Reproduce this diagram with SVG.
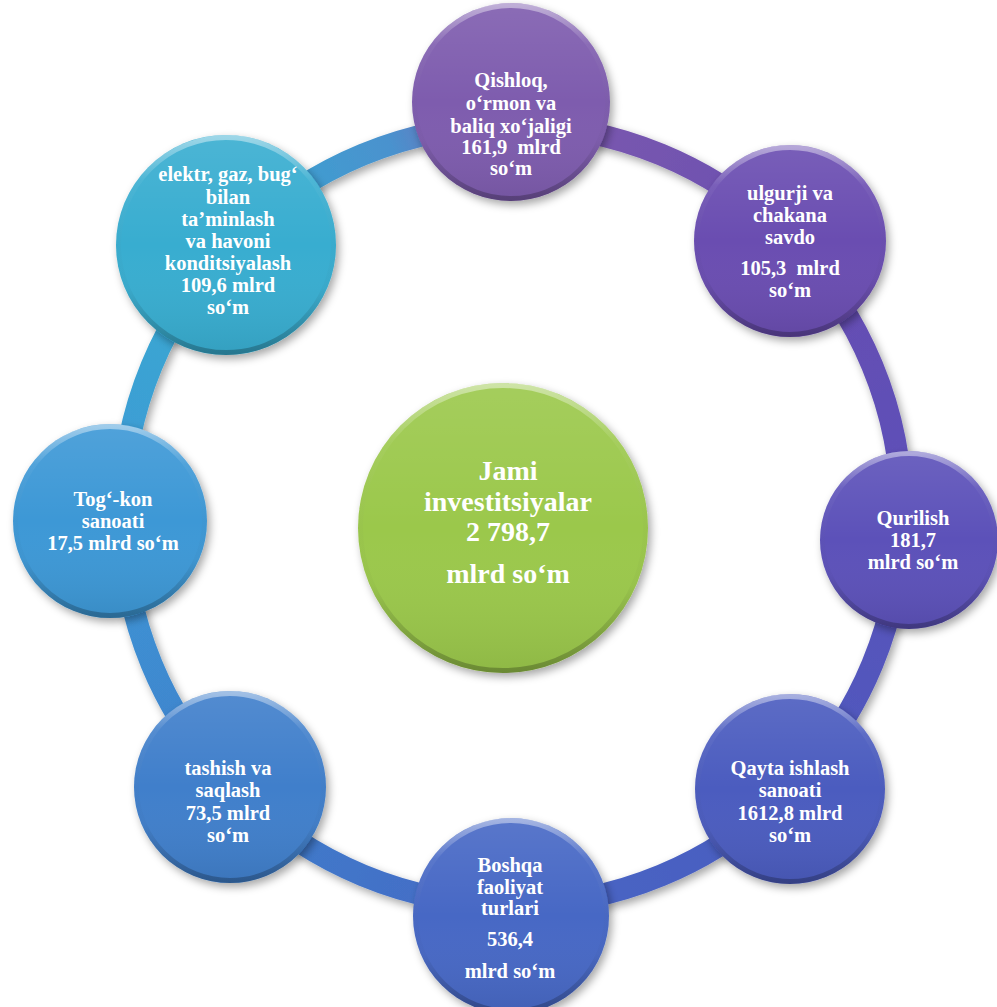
<svg xmlns="http://www.w3.org/2000/svg" width="997" height="1007" viewBox="0 0 997 1007">
<style>
  .lbl { font-family: "Liberation Serif", "Times New Roman", serif; font-weight: bold; font-size: 20.5px; fill: #ffffff; text-anchor: middle; }
  .big { font-size: 28px; }
  .rim { fill: none; stroke: url(#rim); stroke-width: 5; }
  .seg { fill: none; stroke-width: 22; }
</style>
<defs>
  <filter id="sh" x="-20%" y="-20%" width="140%" height="140%">
    <feDropShadow dx="3" dy="4" stdDeviation="4" flood-color="#000" flood-opacity="0.35"/>
  </filter>
  <linearGradient id="rim" x1="0" y1="0" x2="0" y2="1">
    <stop offset="0" stop-color="#fff" stop-opacity="0.45"/>
    <stop offset="0.2" stop-color="#fff" stop-opacity="0.05"/>
    <stop offset="0.7" stop-color="#000" stop-opacity="0.02"/>
    <stop offset="1" stop-color="#000" stop-opacity="0.25"/>
  </linearGradient>
  <linearGradient id="shade" x1="0" y1="0" x2="0" y2="1">
    <stop offset="0" stop-color="#fff" stop-opacity="0.10"/>
    <stop offset="0.5" stop-color="#fff" stop-opacity="0"/>
    <stop offset="1" stop-color="#000" stop-opacity="0.08"/>
  </linearGradient>
  <linearGradient id="g0" gradientUnits="userSpaceOnUse" x1="512" y1="125" x2="787.8" y2="239.2"><stop offset="0" stop-color="#7E5CAE"/><stop offset="1" stop-color="#6A4DB1"/></linearGradient>
  <linearGradient id="g1" gradientUnits="userSpaceOnUse" x1="787.8" y1="239.2" x2="902" y2="515"><stop offset="0" stop-color="#6A4DB1"/><stop offset="1" stop-color="#5B51B9"/></linearGradient>
  <linearGradient id="g2" gradientUnits="userSpaceOnUse" x1="902" y1="515" x2="787.8" y2="790.8"><stop offset="0" stop-color="#5B51B9"/><stop offset="1" stop-color="#4C5BBF"/></linearGradient>
  <linearGradient id="g3" gradientUnits="userSpaceOnUse" x1="787.8" y1="790.8" x2="512" y2="905"><stop offset="0" stop-color="#4C5BBF"/><stop offset="1" stop-color="#4668C5"/></linearGradient>
  <linearGradient id="g4" gradientUnits="userSpaceOnUse" x1="512" y1="905" x2="236.2" y2="790.8"><stop offset="0" stop-color="#4668C5"/><stop offset="1" stop-color="#3F7FCB"/></linearGradient>
  <linearGradient id="g5" gradientUnits="userSpaceOnUse" x1="236.2" y1="790.8" x2="122" y2="515"><stop offset="0" stop-color="#3F7FCB"/><stop offset="1" stop-color="#3E98D6"/></linearGradient>
  <linearGradient id="g6" gradientUnits="userSpaceOnUse" x1="122" y1="515" x2="236.2" y2="239.2"><stop offset="0" stop-color="#3E98D6"/><stop offset="1" stop-color="#37ADD0"/></linearGradient>
  <linearGradient id="g7" gradientUnits="userSpaceOnUse" x1="236.2" y1="239.2" x2="512" y2="125"><stop offset="0" stop-color="#37A6D2"/><stop offset="0.6" stop-color="#4A92CE"/><stop offset="1" stop-color="#7E5CAE"/></linearGradient>
</defs>
<rect width="997" height="1007" fill="#ffffff"/>

<g id="connectors" filter="url(#sh)">
  <path class="seg" stroke="url(#g0)" d="M512,125 A390,390 0 0 1 787.8,239.2"/>
  <path class="seg" stroke="url(#g1)" d="M787.8,239.2 A390,390 0 0 1 902,515"/>
  <path class="seg" stroke="url(#g2)" d="M902,515 A390,390 0 0 1 787.8,790.8"/>
  <path class="seg" stroke="url(#g3)" d="M787.8,790.8 A390,390 0 0 1 512,905"/>
  <path class="seg" stroke="url(#g4)" d="M512,905 A390,390 0 0 1 236.2,790.8"/>
  <path class="seg" stroke="url(#g5)" d="M236.2,790.8 A390,390 0 0 1 122,515"/>
  <path class="seg" stroke="url(#g6)" d="M122,515 A390,390 0 0 1 236.2,239.2"/>
  <path class="seg" stroke="url(#g7)" d="M236.2,239.2 A390,390 0 0 1 512,125"/>
</g>

<g id="center">
  <circle cx="503" cy="528" r="145" fill="#9BC84B" filter="url(#sh)"/>
  <circle cx="503" cy="528" r="145" fill="url(#shade)"/>
  <circle cx="503" cy="528" r="142.5" class="rim"/>
  <text class="lbl big"><tspan x="508" y="480">Jami</tspan><tspan x="508" y="511">investitsiyalar</tspan><tspan x="508" y="541">2 798,7</tspan><tspan x="508" y="583">mlrd so‘m</tspan></text>
</g>

<g id="n-qishloq">
  <circle cx="511" cy="102" r="99" fill="#7E5CAE" filter="url(#sh)"/>
  <circle cx="511" cy="102" r="99" fill="url(#shade)"/>
  <circle cx="511" cy="102" r="96.5" class="rim"/>
  <text class="lbl"><tspan x="511" y="87">Qishloq,</tspan><tspan x="511" y="110">o‘rmon va</tspan><tspan x="511" y="133">baliq xo‘jaligi</tspan><tspan x="511" y="154">161,9 &#160;mlrd</tspan><tspan x="511" y="175">so‘m</tspan></text>
</g>

<g id="n-ulgurji">
  <circle cx="790" cy="241" r="96" fill="#6A4DB1" filter="url(#sh)"/>
  <circle cx="790" cy="241" r="96" fill="url(#shade)"/>
  <circle cx="790" cy="241" r="93.5" class="rim"/>
  <text class="lbl"><tspan x="790" y="200">ulgurji va</tspan><tspan x="790" y="222">chakana</tspan><tspan x="790" y="244">savdo</tspan><tspan x="790" y="275">105,3 &#160;mlrd</tspan><tspan x="790" y="297">so‘m</tspan></text>
</g>

<g id="n-qurilish">
  <circle cx="909" cy="540" r="89" fill="#5B51B9" filter="url(#sh)"/>
  <circle cx="909" cy="540" r="89" fill="url(#shade)"/>
  <circle cx="909" cy="540" r="86.5" class="rim"/>
  <text class="lbl"><tspan x="913" y="525">Qurilish</tspan><tspan x="913" y="547">181,7</tspan><tspan x="913" y="569">mlrd so‘m</tspan></text>
</g>

<g id="n-qayta">
  <circle cx="790" cy="789" r="95" fill="#4C5BBF" filter="url(#sh)"/>
  <circle cx="790" cy="789" r="95" fill="url(#shade)"/>
  <circle cx="790" cy="789" r="92.5" class="rim"/>
  <text class="lbl"><tspan x="790" y="775">Qayta ishlash</tspan><tspan x="790" y="797">sanoati</tspan><tspan x="790" y="820">1612,8 mlrd</tspan><tspan x="790" y="842">so‘m</tspan></text>
</g>

<g id="n-boshqa">
  <circle cx="511" cy="916" r="98" fill="#4668C5" filter="url(#sh)"/>
  <circle cx="511" cy="916" r="98" fill="url(#shade)"/>
  <circle cx="511" cy="916" r="95.5" class="rim"/>
  <text class="lbl"><tspan x="510" y="872">Boshqa</tspan><tspan x="510" y="894">faoliyat</tspan><tspan x="510" y="915">turlari</tspan><tspan x="510" y="946">536,4</tspan><tspan x="510" y="978">mlrd so‘m</tspan></text>
</g>

<g id="n-tashish">
  <circle cx="230" cy="787" r="96" fill="#3F7FCB" filter="url(#sh)"/>
  <circle cx="230" cy="787" r="96" fill="url(#shade)"/>
  <circle cx="230" cy="787" r="93.5" class="rim"/>
  <text class="lbl"><tspan x="228" y="775">tashish va</tspan><tspan x="228" y="797">saqlash</tspan><tspan x="228" y="820">73,5 mlrd</tspan><tspan x="228" y="842">so‘m</tspan></text>
</g>

<g id="n-togkon">
  <circle cx="110" cy="521" r="97" fill="#3E98D6" filter="url(#sh)"/>
  <circle cx="110" cy="521" r="97" fill="url(#shade)"/>
  <circle cx="110" cy="521" r="94.5" class="rim"/>
  <text class="lbl"><tspan x="113" y="506">Tog‘-kon</tspan><tspan x="113" y="528">sanoati</tspan><tspan x="113" y="550">17,5 mlrd so‘m</tspan></text>
</g>

<g id="n-elektr">
  <circle cx="226" cy="245" r="110" fill="#37ADD0" filter="url(#sh)"/>
  <circle cx="226" cy="245" r="110" fill="url(#shade)"/>
  <circle cx="226" cy="245" r="107.5" class="rim"/>
  <text class="lbl"><tspan x="228" y="181">elektr, gaz, bug‘</tspan><tspan x="228" y="204">bilan</tspan><tspan x="228" y="226">ta’minlash</tspan><tspan x="228" y="248">va havoni</tspan><tspan x="228" y="270">konditsiyalash</tspan><tspan x="228" y="292">109,6 mlrd</tspan><tspan x="228" y="314">so‘m</tspan></text>
</g>
</svg>
